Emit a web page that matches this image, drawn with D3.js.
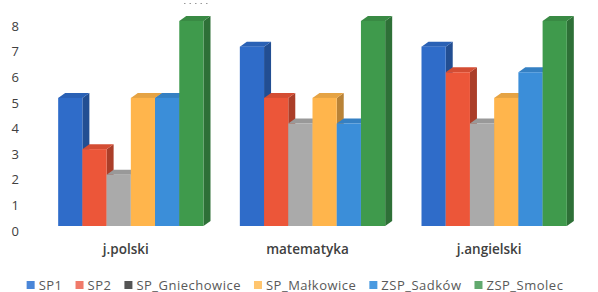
<!DOCTYPE html>
<html>
<head>
<meta charset="utf-8">
<script src="https://d3js.org/d3.v7.min.js"></script>
<style>
    body { margin: 0; background: #fff; }
    text { font-family: "Open Sans", sans-serif; }
    .ylab { font-size: 13px; fill: #404040; }
    .xlab { font-size: 13.5px; fill: #404040; font-weight: 600; }
    .leg { font-size: 13px; fill: #595959; letter-spacing: 0.5px; }
</style>
</head>
<body>
<svg id="chart" width="598" height="292"></svg>
<script>
    // data
    const categories = ["j.polski", "matematyka", "j.angielski"];
    const series = ["SP1", "SP2", "SP_Gniechowice", "SP_Małkowice", "ZSP_Sadków", "ZSP_Smolec"];
    const sp1 = [5, 7, 7];
    const sp2 = [3, 5, 6];
    const gniechowice = [2, 4, 4];
    const malkowice = [5, 5, 5];
    const sadkow = [5, 4, 6];
    const smolec = [8, 8, 8];
    const yTicks = [0, 1, 2, 3, 4, 5, 6, 7, 8];

    const values = [sp1, sp2, gniechowice, malkowice, sadkow, smolec];
    const colors = ["#2f6cc9", "#ec5639", "#aaaaaa", "#ffb54c", "#3b8ed9", "#3f9a4c"];
    const legendColors = ["#4a86d8", "#f07a6a", "#555555", "#ffc56e", "#4a9ae0", "#62a96e"];

    const svg = d3.select("svg#chart");
    const baseY = 226, topY = 21;
    const depthX = 7, depthY = 5;

    const x = d3.scaleBand().domain(categories).range([40, 585])
        .paddingInner(0.2).paddingOuter(0.1);
    const xs = d3.scaleBand().domain(series).range([0, x.bandwidth()]);
    const y = d3.scaleLinear().domain([0, 8]).range([baseY, topY]);

    // y axis labels (sit a little lower than the bar fronts)
    const yAxis = d3.axisLeft(y).tickValues(yTicks).tickSize(0).tickPadding(0);
    const ay = svg.append("g").attr("transform", "translate(19,5)").call(yAxis);
    ay.select(".domain").remove();
    ay.selectAll("text").attr("class", "ylab").attr("fill", null);
    ay.attr("font-family", null).attr("font-size", null);

    // bars, drawn left to right so fronts cover neighbour sides
    const bars = [];
    categories.forEach((c, ci) => {
        series.forEach((s, si) => {
            bars.push({ c, s, v: values[si][ci], color: colors[si] });
        });
    });

    const g = svg.append("g");
    bars.forEach(d => {
        const x0 = x(d.c) + xs(d.s), w = xs.bandwidth();
        const yt = y(d.v);
        const col = d3.color(d.color);
        const bar = g.append("g");
        // side face
        bar.append("path")
            .attr("d", `M${x0 + w},${yt}L${x0 + w + depthX},${yt - depthY}L${x0 + w + depthX},${baseY - depthY}L${x0 + w},${baseY}Z`)
            .attr("fill", col.darker(0.9));
        // top face
        bar.append("path")
            .attr("d", `M${x0},${yt}L${x0 + depthX},${yt - depthY}L${x0 + w + depthX},${yt - depthY}L${x0 + w},${yt}Z`)
            .attr("fill", col.darker(0.3));
        // front face
        bar.append("rect")
            .attr("x", x0).attr("y", yt)
            .attr("width", w).attr("height", baseY - yt)
            .attr("fill", d.color);
    });

    // category labels
    svg.append("g").selectAll("text").data(categories).join("text")
        .attr("class", "xlab")
        .attr("x", d => x(d) + x.bandwidth() / 2 - 5)
        .attr("y", 254)
        .attr("text-anchor", "middle")
        .text(d => d);

    // small dotted remnant at top
    svg.append("line").attr("x1", 184).attr("x2", 208).attr("y1", 3.5).attr("y2", 3.5)
        .attr("stroke", "#999").attr("stroke-dasharray", "1.5,4").attr("stroke-width", 1.2);

    // legend
    const leg = svg.append("g");
    let lx = 0;
    const gap = 13;
    series.forEach((s, i) => {
        const item = leg.append("g").attr("transform", `translate(${lx},0)`);
        item.append("rect").attr("x", 0).attr("y", -4).attr("width", 8).attr("height", 8)
            .attr("fill", legendColors[i]);
        const t = item.append("text").attr("class", "leg").attr("x", 12).attr("y", 4.5).text(s);
        lx += 12 + t.node().getComputedTextLength() + gap;
    });
    lx -= gap;
    leg.attr("transform", `translate(${(598 - lx) / 2 - 4},285)`);
</script>
</body>
</html>
